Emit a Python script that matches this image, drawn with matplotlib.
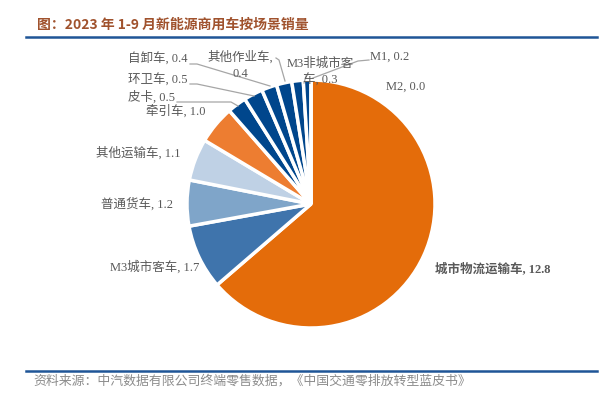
import numpy as np
import matplotlib.pyplot as plt
from matplotlib.lines import Line2D

plt.rcParams['font.family'] = ['Liberation Serif', 'Noto Sans CJK SC', 'DejaVu Sans']

# data (万辆)
labels = ['城市物流运输车', 'M3城市客车', '普通货车', '其他运输车', '牵引车', '皮卡',
          '环卫车', '自卸车', '其他作业车', 'M3非城市客车', 'M1', 'M2']
values = [12.8, 1.7, 1.2, 1.1, 1.0, 0.5, 0.5, 0.4, 0.4, 0.3, 0.2, 0.0]
colors = ['#E46C0A', '#3F74AC', '#7FA5C9', '#BFD1E5', '#ED7D31', '#00468C',
          '#00468C', '#00468C', '#00468C', '#00468C', '#00468C', '#00468C']

W, H = 610, 399
cx, cy, r = 311, 204, 124

fig = plt.figure(figsize=(W / 100, H / 100), dpi=100)
ax = fig.add_axes([(cx - r) / W, (H - cy - r) / H, 2 * r / W, 2 * r / H])
ax.pie(values, colors=colors, startangle=90, counterclock=False, radius=1,
       wedgeprops=dict(edgecolor='white', linewidth=2.5))
ax.set_xlim(-1, 1)
ax.set_ylim(-1, 1)
ax.axis('off')


def d(px, py):
    # pixel -> pie data coords
    return (px - cx) / r, (cy - py) / r


# label text, pixel position, alignment, leader line (pixel points or None)
label_cfg = [
    ('城市物流运输车, 12.8', (435, 269), 'left', None),
    ('M3城市客车, 1.7', (199, 267), 'right', None),
    ('普通货车, 1.2', (173, 204), 'right', None),
    ('其他运输车, 1.1', (180, 153), 'right', None),
    ('牵引车, 1.0', (205, 111), 'right', None),
    ('皮卡, 0.5', (175, 97), 'right', [(177, 102), (231, 102), (238, 106)]),
    ('环卫车, 0.5', (188, 80), 'right', [(190, 84), (197, 84), (254, 96)]),
    ('自卸车, 0.4', (188, 59), 'right', [(190, 64), (197, 64), (270, 86)]),
    ('其他作业车,\n0.4', (240, 65), 'center', [(276, 58), (279, 60), (285, 81)]),
    ('M3非城市客\n车, 0.3', (320, 72), 'center', [(306, 76), (304, 83)]),
    ('M1, 0.2', (390, 57), 'center', [(369, 60), (358, 61), (313, 78)]),
    ('M2, 0.0', (406, 87), 'center', None),
]

for i, (txt, pos, ha, line) in enumerate(label_cfg):
    if line is not None:
        pts = [d(*p) for p in line]
        ax.add_line(Line2D([p[0] for p in pts], [p[1] for p in pts],
                           color='#A6A6A6', lw=0.9, clip_on=False))
    x, y = d(*pos)
    ax.text(x, y, txt, ha=ha, va='center', fontsize=9, color='#595959',
            linespacing=1.45, clip_on=False,
            fontweight='bold' if i == 0 else 'normal')

# title and frame lines
fig.text(37 / W, 1 - 25 / H, '图：2023 年 1-9 月新能源商用车按场景销量',
         fontsize=10, fontweight='bold', color='#A0522D',
         family=['Noto Sans CJK SC', 'DejaVu Sans'], va='center', ha='left')
fig.add_artist(Line2D([26 / W, 597 / W], [1 - 37 / H, 1 - 37 / H],
                      color='#1F5597', lw=1.8))
fig.add_artist(Line2D([26 / W, 597 / W], [1 - 371 / H, 1 - 371 / H],
                      color='#1F5597', lw=1.8))
fig.text(33 / W, 1 - 381 / H,
         '资料来源：中汽数据有限公司终端零售数据，《中国交通零排放转型蓝皮书》',
         fontsize=9.3, color='#8C8C8C', style='italic',
         family=['Noto Sans CJK SC', 'DejaVu Sans'], va='center', ha='left')

fig.savefig('out.png', dpi=100)
